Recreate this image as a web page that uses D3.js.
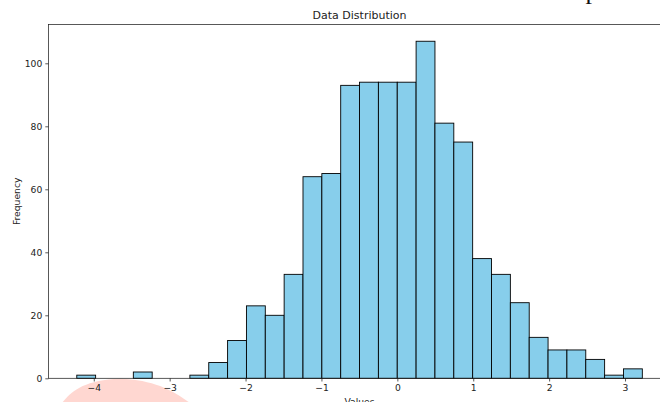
<!DOCTYPE html>
<html>
<head>
<meta charset="utf-8">
<script src="https://cdn.jsdelivr.net/npm/d3@7"></script>
<style>
  html, body { margin: 0; padding: 0; background: #fff; }
  svg { display: block; font-family: "DejaVu Sans", sans-serif; }
</style>
</head>
<body>
<svg id="chart" width="660" height="402"></svg>
<script>
// ---- data ----
const title = "Data Distribution";
const xLabel = "Values";
const yLabel = "Frequency";
const binMin = -4.224;
const binMax = 3.228;
const counts = [1, 0, 0, 2, 0, 0, 1, 5, 12, 23, 20, 33, 64, 65, 93, 94, 94, 94, 107, 81, 75, 38, 33, 24, 13, 9, 9, 6, 1, 3];
const xTicks = [-4, -3, -2, -1, 0, 1, 2, 3];
const yTicks = [0, 20, 40, 60, 80, 100];

// ---- layout ----
const svg = d3.select("#chart");
const mLeft = 48.5, mRight = 670.6, mTop = 24.4, mBottom = 378.3;

const nb = counts.length;
const bw = (binMax - binMin) / nb;
const bins = counts.map((c, i) => ({ x0: binMin + i * bw, x1: binMin + (i + 1) * bw, count: c }));

const span = binMax - binMin;
const x = d3.scaleLinear().domain([binMin - 0.05 * span, binMax + 0.05 * span]).range([mLeft, mRight]);
const y = d3.scaleLinear().domain([0, d3.max(counts) * 1.05]).range([mBottom, mTop]);

// decorative pink blob from the reference (behind everything)
svg.append("path")
  .attr("d", "M62,403 C72,390 86,380 120,378.8 C154,380 172,390 190,403 Z")
  .attr("fill", "#ffd7d1");

// clipped serif glyph at the top edge of the reference
svg.append("text").attr("x", 585.5).attr("y", -1)
  .style("font-family", "Liberation Serif").style("font-size", "26px").attr("fill", "#111").text("p");

// bars
svg.append("g").selectAll("rect").data(bins.filter(b => b.count > 0)).join("rect")
  .attr("x", d => x(d.x0))
  .attr("width", d => x(d.x1) - x(d.x0))
  .attr("y", d => y(d.count))
  .attr("height", d => y(0) - y(d.count))
  .attr("fill", "#87ceeb")
  .attr("stroke", "#000")
  .attr("stroke-width", 0.9);

// axes
const tickColor = "#222";
const xAxis = d3.axisBottom(x).tickValues(xTicks).tickSize(3.2).tickPadding(3)
  .tickFormat(d => d < 0 ? "\u2212" + Math.abs(d) : String(d));
const gx = svg.append("g").attr("transform", `translate(0,${mBottom})`).call(xAxis);
const yAxis = d3.axisLeft(y).tickValues(yTicks).tickSize(3.2).tickPadding(3);
const gy = svg.append("g").attr("transform", `translate(${mLeft},0)`).call(yAxis);
[gx, gy].forEach(g => {
  g.select(".domain").remove();
  g.selectAll("line").attr("stroke", tickColor).attr("stroke-width", 0.75);
  g.selectAll("text").attr("fill", tickColor).style("font-size", "9.2px").style("font-family", "DejaVu Sans");
});

// spines
const sp = svg.append("g").attr("stroke", "#222").attr("stroke-width", 0.75).attr("fill", "none");
sp.append("rect").attr("x", mLeft).attr("y", mTop).attr("width", mRight - mLeft).attr("height", mBottom - mTop);

// labels
svg.append("text").attr("x", (mLeft + mRight) / 2).attr("y", 18.5)
  .attr("text-anchor", "middle").attr("fill", "#222").style("font-size", "11px").text(title);
svg.append("text").attr("x", (mLeft + mRight) / 2).attr("y", 405)
  .attr("text-anchor", "middle").attr("fill", "#222").style("font-size", "9.2px").text(xLabel);
svg.append("text").attr("transform", `translate(20,${(mTop + mBottom) / 2}) rotate(-90)`)
  .attr("text-anchor", "middle").attr("fill", "#222").style("font-size", "9.2px").text(yLabel);
</script>
</body>
</html>
